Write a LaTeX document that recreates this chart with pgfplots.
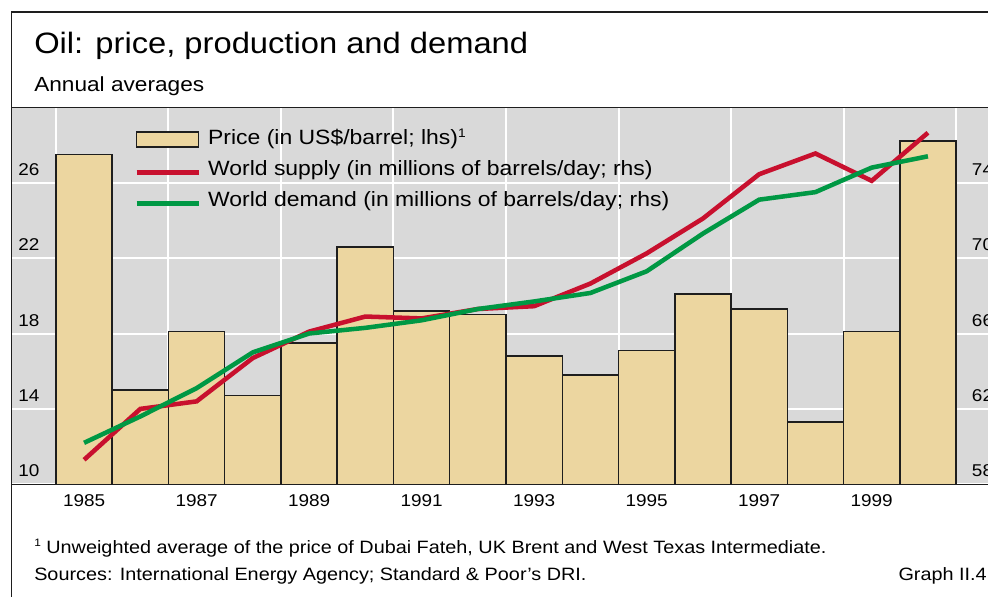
\documentclass[border=0pt]{standalone}
\usepackage{fontspec}
\setmainfont{Liberation Sans}[FakeStretch=1.11]
\usepackage{graphicx}
\usepackage{pgfplots}
\usepackage{pgfplotstable}
\pgfplotsset{compat=1.18}
\definecolor{barcol}{RGB}{236,214,160}
\definecolor{bggray}{RGB}{217,217,217}
\definecolor{supred}{RGB}{200,16,46}
\definecolor{demgreen}{RGB}{0,152,68}
\definecolor{edge}{RGB}{30,30,30}
\newcommand{\supone}{\raisebox{0.34em}{\scalebox{0.6}{1}}}

\pgfplotstableread{
year price
1985 27.5
1986 15.0
1987 18.1
1988 14.7
1989 17.5
1990 22.6
1991 19.2
1992 19.0
1993 16.8
1994 15.8
1995 17.1
1996 20.1
1997 19.3
1998 13.3
1999 18.1
2000 28.2
}\pricetable

\pgfplotstableread{
year supply demand
1985 59.3 60.2
1986 62.0 61.6
1987 62.4 63.1
1988 64.7 65.0
1989 66.1 66.0
1990 66.9 66.3
1991 66.8 66.7
1992 67.3 67.3
1993 67.45 67.7
1994 68.65 68.15
1995 70.25 69.3
1996 72.1 71.3
1997 74.45 73.1
1998 75.55 73.5
1999 74.1 74.8
2000 76.65 75.4
}\linetable

\begin{document}
\begin{tikzpicture}
\useasboundingbox (0,0) rectangle (741pt,-447pt);
\clip (0,0) rectangle (741pt,-447pt);
\begin{axis}[
  at={(8.625pt,-363.225pt)}, anchor=south west,
  scale only axis, width=741.75pt, height=282.75pt,
  xmin=1983.71, xmax=2001.29, ymin=10, ymax=30,
  axis background/.style={fill=bggray},
  axis line style={edge, line width=1.1pt},
  xtick={1985,1987,...,1999},
  xticklabels={1985,1987,1989,1991,1993,1995,1997,1999},
  minor xtick={1984.5,1986.5,...,2000.5},
  xminorgrids, ymajorgrids,
  ytick={10,14,18,22,26},
  grid style={white, line width=1.5pt},
  minor grid style={white, line width=1.5pt},
  major tick length=0pt, minor tick length=0pt,
  tick style={draw=none},
  /pgf/number format/assume math mode=true,
  xticklabel style={anchor=base, yshift=-16.3pt, inner sep=0pt, font=\fontsize{12.8pt}{14pt}\selectfont},
  yticklabel style={anchor=base west, xshift=4.9pt, yshift=5.5pt, inner sep=0pt, font=\fontsize{12.8pt}{14pt}\selectfont},
]
\addplot[ybar, bar width=1, fill=barcol, draw=edge, line width=1.1pt] table[x=year,y=price]{\pricetable};
\end{axis}
\begin{axis}[
  at={(8.625pt,-363.225pt)}, anchor=south west,
  scale only axis, width=741.75pt, height=282.75pt,
  xmin=1983.71, xmax=2001.29, ymin=58, ymax=78,
  hide x axis, axis y line*=right, y axis line style={draw=none},
  ytick={58,62,66,70,74},
  major tick length=0pt, tick style={draw=none},
  /pgf/number format/assume math mode=true,
  yticklabel style={anchor=base west, xshift=-21.6pt, yshift=5.5pt, inner sep=0pt, font=\fontsize{12.8pt}{14pt}\selectfont},
  legend style={at={(0.1239,0.944)}, anchor=north west, draw=none, fill=none, inner sep=0pt,
    font=\fontsize{15.5pt}{18pt}\selectfont, row sep=7.25pt, column sep=5.5pt,
    nodes={inner sep=0pt, text height=12pt, text depth=4pt}},
  legend cell align=left,
]
\addlegendimage{legend image code/.code={\draw[fill=barcol, draw=edge, line width=1.1pt] (0pt,-5.6pt) rectangle (46.5pt,5.6pt);}}
\addlegendentry{Price (in US\$/barrel; lhs)\supone}
\addplot[supred, line width=3.4pt, no marks, legend image code/.code={\draw[supred, line width=3.4pt] (0pt,-1.5pt) -- (46.5pt,-1.5pt);}] table[x=year,y=supply]{\linetable};
\addlegendentry{World supply (in millions of barrels/day; rhs)}
\addplot[demgreen, line width=3.4pt, no marks, legend image code/.code={\draw[demgreen, line width=3.4pt] (0pt,-1.5pt) -- (46.5pt,-1.5pt);}] table[x=year,y=demand]{\linetable};
\addlegendentry{World demand (in millions of barrels/day; rhs)}
\end{axis}
\begin{scope}[x=0.75pt,y=-0.75pt]
\draw[edge, line width=1.1pt] (11.5,600) -- (11.5,12) -- (995,12);
\node[anchor=base west, inner sep=0pt, font=\fontsize{22.1pt}{26pt}\selectfont] at (34,53) {Oil: price, production and demand};
\node[anchor=base west, inner sep=0pt, font=\fontsize{15.3pt}{18pt}\selectfont] at (34,91) {Annual averages};
\node[anchor=base west, inner sep=0pt, font=\fontsize{13.4pt}{16pt}\selectfont] at (34,553) {\supone\ Unweighted average of the price of Dubai Fateh, UK Brent and West Texas Intermediate.};
\node[anchor=base west, inner sep=0pt, font=\fontsize{13.4pt}{16pt}\selectfont] at (34,580) {Sources: International Energy Agency; Standard \& Poor's DRI.};
\node[anchor=base east, inner sep=0pt, font=\fontsize{13.4pt}{16pt}\selectfont] at (987,580) {Graph II.4};
\end{scope}
\end{tikzpicture}
\end{document}
